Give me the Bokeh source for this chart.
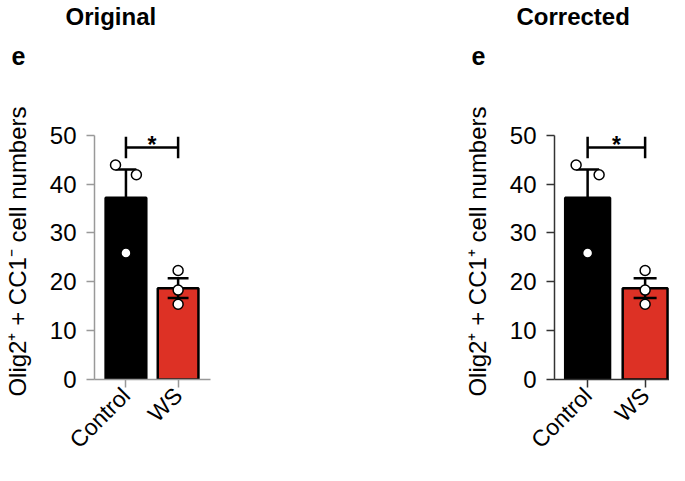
import math
from bokeh.plotting import figure
from bokeh.models import Range1d, FixedTicker, Label, Title
from bokeh.layouts import row
from bokeh.embed import file_html
from bokeh.resources import INLINE

# ---- data ----
categories = ["Control", "WS"]
means = [37.2, 18.7]
sems = [5.8, 2.0]
control_points = [43.9, 41.9, 25.9]
ws_points = [22.3, 18.3, 15.4]
control_jitter = [-0.2, 0.2, 0.0]
ws_jitter = [0.0, 0.0, 0.0]
y_ticks = [0, 10, 20, 30, 40, 50]
sig_text = "*"
panel_titles = ["Original", "Corrected"]
panel_letter = "e"
y_labels = ["Olig2\u207a + CC1\u207b cell numbers", "Olig2\u207a + CC1\u207a cell numbers"]
bar_colors = ["#000000", "#DD3125"]

FONT = "Liberation Sans"
YMAX = 52.4


def make_panel(title, ylabel, axis_color, width, left, right, x_start, x_end, title_off, e_off):
    p = figure(width=width, height=465, output_backend="svg", toolbar_location=None,
               x_range=Range1d(x_start, x_end), y_range=Range1d(0, YMAX),
               min_border_left=left, min_border_right=right,
               min_border_top=0, min_border_bottom=0)
    p.outline_line_color = None
    p.xgrid.visible = False
    p.ygrid.visible = False
    p.background_fill_color = "white"
    p.border_fill_color = "white"

    xs = [i + 1 for i in range(len(categories))]
    # bars
    p.vbar(x=xs, top=means, bottom=0, width=0.78, fill_color=bar_colors,
           line_color="black", line_width=2.5)
    # error bars
    ups = [m + s for m, s in zip(means, sems)]
    los = [m - s for m, s in zip(means, sems)]
    p.segment(x0=xs, y0=los, x1=xs, y1=ups, line_color="black", line_width=2.5)
    p.segment(x0=[x - 0.2 for x in xs], y0=ups, x1=[x + 0.2 for x in xs], y1=ups,
              line_color="black", line_width=2.5)
    p.segment(x0=[x - 0.2 for x in xs], y0=los, x1=[x + 0.2 for x in xs], y1=los,
              line_color="black", line_width=2.5)
    # points
    p.scatter(x=[1 + j for j in control_jitter], y=control_points, size=10,
              fill_color="white", line_color="black", line_width=1.5)
    p.scatter(x=[2 + j for j in ws_jitter], y=ws_points, size=10,
              fill_color="white", line_color="black", line_width=1.5)
    # significance bracket
    p.segment(x0=[1, 1, 2], y0=[47.5, 45.3, 45.3], x1=[2, 1, 2], y1=[47.5, 49.7, 49.7],
              line_color="black", line_width=2.5)
    p.add_layout(Label(x=1.5, y=48.1, text=sig_text, text_align="center",
                       text_baseline="alphabetic", text_font=FONT, text_font_style="bold",
                       text_font_size="23px", text_color="black"))

    # axes
    xa = p.xaxis[0]
    xa.ticker = FixedTicker(ticks=xs)
    xa.major_label_overrides = {x: c for x, c in zip(xs, categories)}
    xa.major_label_orientation = math.pi / 4
    xa.minor_tick_line_color = None
    xa.major_tick_out = 8
    xa.major_tick_in = 0
    xa.major_label_standoff = 4
    ya = p.yaxis[0]
    ya.ticker = FixedTicker(ticks=y_ticks)
    ya.bounds = (0, 50)
    ya.minor_tick_line_color = None
    ya.major_tick_out = 8
    ya.major_tick_in = 0
    ya.major_label_standoff = 10
    ya.axis_label = ylabel
    ya.axis_label_standoff = 16
    for a in (xa, ya):
        a.axis_line_color = axis_color
        a.major_tick_line_color = axis_color
        a.axis_line_width = 1.5
        a.major_tick_line_width = 1.5
        a.major_label_text_font = FONT
        a.major_label_text_font_size = "24px"
        a.major_label_text_color = "black"
        a.axis_label_text_font = FONT
        a.axis_label_text_font_size = "24px"
        a.axis_label_text_font_style = "normal"
        a.axis_label_text_color = "black"
    xa.major_label_text_font_size = "23px"

    # title stack (nearest the frame first): spacer, panel letter, title
    p.add_layout(Title(text=" ", standoff=30, text_font_size="10px",
                       text_line_height=1.0), "above")
    p.add_layout(Title(text=panel_letter, align="left", offset=e_off, standoff=31,
                       text_font=FONT, text_font_style="bold", text_font_size="25px",
                       text_line_height=1.0, text_color="black"), "above")
    p.add_layout(Title(text=title, align="left", offset=title_off, standoff=0,
                       text_font=FONT, text_font_style="bold", text_font_size="24px",
                       text_line_height=1.0, text_color="black"), "above")
    return p


p1 = make_panel(panel_titles[0], y_labels[0], "#999999", 460, 81, 250,
                0.397, 2.621, -29, -83)
p2 = make_panel(panel_titles[1], y_labels[1], "#333333", 209, 91, 0,
                0.424, 2.424, -38, -83)

layout = row(p1, p2)
open("out.html", "w").write(file_html(layout, INLINE))
